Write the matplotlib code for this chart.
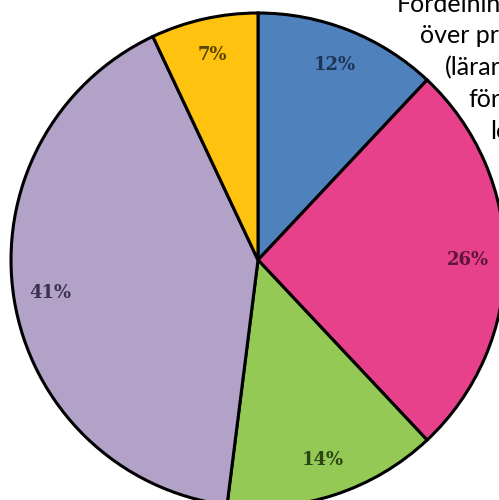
import matplotlib.pyplot as plt

# slices, clockwise from 12 o'clock
labels = ["Blå", "Rosa", "Grön", "Lila", "Gul"]
shares = [12, 26, 14, 41, 7]
colors = ["#4f81bd", "#e8418c", "#94c955", "#b2a2c8", "#ffc20e"]
label_colors = ["#1c3557", "#5e1438", "#2b4514", "#3a3050", "#5a4500"]

# title fragments visible at the top right (cut by the image edge)
title_lines = ["Fördelnin", "över pr", "(lärar", "för", "le"]
title_x = [397, 420, 445, 468, 490]
title_base = [12, 43, 75, 107, 139]

fig = plt.figure(figsize=(4.99, 5.0), dpi=100)
ax = fig.add_axes([0, 0, 1, 1])

wedges, _, autotexts = ax.pie(
    shares,
    colors=colors,
    startangle=90,
    counterclock=False,
    center=(258, 240),
    radius=247,
    autopct="%d%%",
    pctdistance=0.85,
    wedgeprops=dict(edgecolor="black", linewidth=2.2),
    textprops=dict(fontsize=13, fontweight="bold", family="DejaVu Serif"),
)
for t, c in zip(autotexts, label_colors):
    t.set_color(c)

for txt, x, y in zip(title_lines, title_x, title_base):
    ax.text(x, 500 - y, txt, fontsize=18, family="Lato",
            ha="left", va="baseline", color="black", zorder=0)

ax.set_xlim(0, 499)
ax.set_ylim(0, 500)
ax.set_aspect("auto")
ax.axis("off")

fig.savefig("out.png", dpi=100)
